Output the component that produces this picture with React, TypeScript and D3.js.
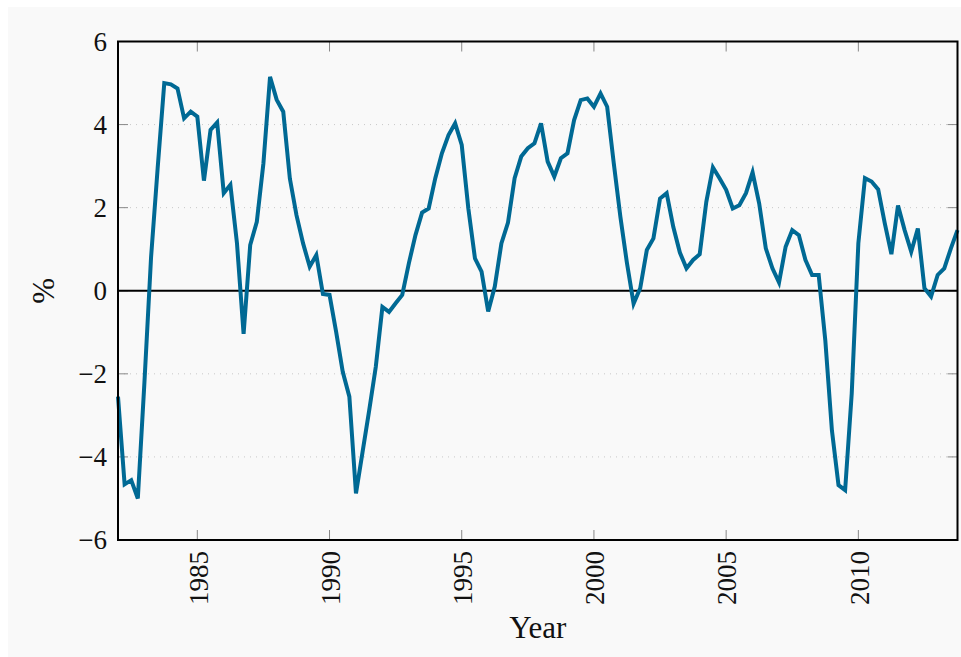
import React from "react";
import * as d3 from "d3";

// Quarterly series, 1982Q1 .. 2013Q4 (%)
const startYear = 1982;
const values: number[] = [
  -2.55, -4.66, -4.56, -5.0, -2.2, 0.8, 2.95, 5.0,
  4.97, 4.87, 4.15, 4.31, 4.19, 2.65, 3.87, 4.05,
  2.35, 2.55, 1.14, -1.04, 1.1, 1.66, 3.07, 5.15,
  4.6, 4.31, 2.7, 1.82, 1.14, 0.58, 0.86, -0.08,
  -0.1, -0.99, -1.95, -2.55, -4.88, -3.88, -2.88, -1.83,
  -0.39, -0.51, -0.3, -0.1, 0.66, 1.34, 1.88, 1.98,
  2.71, 3.31, 3.75, 4.03, 3.51, 1.98, 0.78, 0.46,
  -0.5, 0.1, 1.14, 1.64, 2.71, 3.23, 3.43, 3.55,
  4.03, 3.11, 2.75, 3.19, 3.31, 4.11, 4.59, 4.63,
  4.43, 4.75, 4.43, 3.07, 1.78, 0.66, -0.31, 0.06,
  0.98, 1.26, 2.22, 2.35, 1.54, 0.92, 0.54, 0.74,
  0.88, 2.14, 2.97, 2.71, 2.43, 1.98, 2.06, 2.35,
  2.85, 2.1, 1.02, 0.54, 0.2, 1.06, 1.46, 1.34,
  0.74, 0.38, 0.38, -1.19, -3.36, -4.68, -4.8, -2.47,
  1.14, 2.71, 2.63, 2.44, 1.62, 0.88, 2.05, 1.46,
  0.94, 1.5, 0.06, -0.14, 0.38, 0.54, 1.02, 1.46,
];
const xTicks = [1985, 1990, 1995, 2000, 2005, 2010];
const yTicks = [-6, -4, -2, 0, 2, 4, 6];
const gridTicks = [-4, -2, 2, 4];
const xLabel = "Year";
const yLabel = "%";

const W = 953;
const H = 650;
const M = { left: 110, right: 949.5, top: 34.5, bottom: 533 };
const LINE = "#006994";
const FONT = "'Liberation Serif', 'Times New Roman', serif";
const TICK_FS = 27;
const LABEL_FS = 31;

const fmt = (v: number) => (v < 0 ? "\u2212" + Math.abs(v) : String(v));

export default function App() {
  const data = values.map((v, i) => ({ t: startYear + i / 4, v }));
  const x = d3
    .scaleLinear()
    .domain(d3.extent(data, (d) => d.t) as [number, number])
    .range([M.left, M.right]);
  const y = d3.scaleLinear().domain([-6, 6]).range([M.bottom, M.top]);
  const line = d3
    .line<{ t: number; v: number }>()
    .x((d) => x(d.t))
    .y((d) => y(d.v));

  return (
    <>
      <style>{`html,body{overflow:hidden;}`}</style>
      <svg
        width={W}
        height={H}
        style={{ display: "block", position: "fixed", left: 8, top: 7, background: "#f9f9f9" }}
      >
        <rect x={0} y={0} width={W} height={H} fill="#f9f9f9" />
        {gridTicks.map((t) => (
          <line
            key={"g" + t}
            x1={M.left}
            x2={M.right}
            y1={y(t)}
            y2={y(t)}
            stroke="#c8c8c8"
            strokeWidth={1}
            strokeDasharray="1 5"
          />
        ))}
        {yTicks.map((t) => (
          <g key={"yt" + t}>
            <line x1={M.left} x2={M.left + 10} y1={y(t)} y2={y(t)} stroke="#888" strokeWidth={1} />
            <line x1={M.right - 10} x2={M.right} y1={y(t)} y2={y(t)} stroke="#888" strokeWidth={1} />
            <text
              x={M.left - 11}
              y={y(t)}
              dy="0.34em"
              textAnchor="end"
              fontFamily={FONT}
              fontSize={TICK_FS}
              fill="#111"
            >
              {fmt(t)}
            </text>
          </g>
        ))}
        {xTicks.map((t) => (
          <g key={"xt" + t}>
            <line x1={x(t)} x2={x(t)} y1={M.bottom} y2={M.bottom - 10} stroke="#888" strokeWidth={1} />
            <line x1={x(t)} x2={x(t)} y1={M.top} y2={M.top + 10} stroke="#888" strokeWidth={1} />
            <text
              transform={`translate(${x(t) + 1},${M.bottom + 11}) rotate(-90)`}
              dy="0.34em"
              textAnchor="end"
              fontFamily={FONT}
              fontSize={TICK_FS}
              fill="#111"
            >
              {t}
            </text>
          </g>
        ))}
        <line x1={M.left} x2={M.right} y1={y(0)} y2={y(0)} stroke="#000" strokeWidth={2} />
        <path d={line(data) ?? ""} fill="none" stroke={LINE} strokeWidth={4} strokeLinejoin="miter" />
        <rect
          x={M.left}
          y={M.top}
          width={M.right - M.left}
          height={M.bottom - M.top}
          fill="none"
          stroke="#000"
          strokeWidth={2}
        />
        <text
          x={(M.left + M.right) / 2}
          y={631}
          textAnchor="middle"
          fontFamily={FONT}
          fontSize={LABEL_FS}
          fill="#111"
        >
          {xLabel}
        </text>
        <text
          transform={`translate(35,${y(0)}) rotate(-90)`}
          dy="0.34em"
          textAnchor="middle"
          fontFamily={FONT}
          fontSize={LABEL_FS}
          fill="#111"
        >
          {yLabel}
        </text>
      </svg>
    </>
  );
}
